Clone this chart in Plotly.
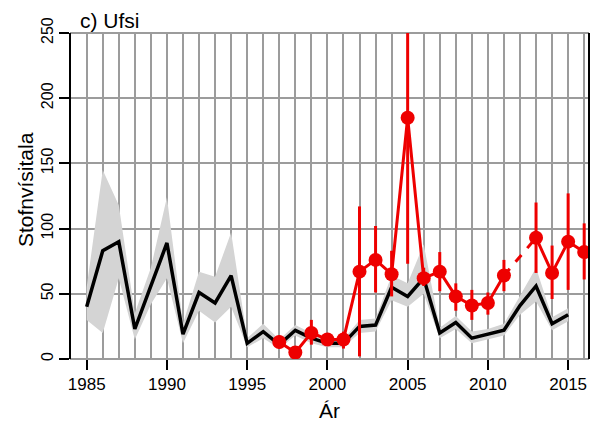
import plotly.graph_objects as go

# ---- data ----
years_black = list(range(1985, 2016))
black_index = [40, 83, 90, 23, 56, 89, 19, 51, 43, 64, 12, 21, 11, 22, 16, 12, 12, 25, 26, 55,
               48, 62, 20, 28, 16, 19, 22, 41, 56, 27, 34]
black_upper = [55, 145, 118, 35, 70, 124, 27, 67, 63, 97, 16, 27, 15, 26, 20, 15, 15, 30, 31, 64,
               58, 88, 24, 33, 21, 23, 27, 49, 70, 32, 39]
black_lower = [30, 20, 62, 15, 42, 62, 12, 37, 28, 40, 9, 16, 8, 18, 12, 9, 9, 20, 21, 45,
               40, 50, 16, 23, 12, 15, 18, 34, 44, 22, 29]

years_red = list(range(1997, 2017))
red_index = [13, 5, 20, 15, 15, 67, 76, 65, 185, 62, 67, 48, 41, 43, 64, None, 93, 66, 90, 82]
red_upper = [18, 9, 30, 20, 21, 117, 102, 83, 290, 70, 82, 58, 53, 51, 76, None, 120, 87, 127, 104]
red_lower = [8, 1, 11, 10, 8, 2, 51, 48, 73, 56, 52, 37, 30, 34, 52, None, 66, 46, 53, 61]

x_ticks = [1985, 1990, 1995, 2000, 2005, 2010, 2015]
y_ticks = [0, 50, 100, 150, 200, 250]

title_text = "c) Ufsi"
x_title = "Ár"
y_title = "Stofnvísitala"

FONT = "Liberation Sans, Arial, Helvetica, sans-serif"
RED = "#ee0000"
GRID = "#9c9c9c"

fig = go.Figure()

# grey confidence band
fig.add_trace(go.Scatter(
    x=years_black + years_black[::-1],
    y=black_upper + black_lower[::-1],
    fill="toself", fillcolor="#d4d4d4", line=dict(width=0),
    mode="lines", hoverinfo="skip", showlegend=False))

# black index line
fig.add_trace(go.Scatter(
    x=years_black, y=black_index, mode="lines",
    line=dict(color="black", width=3.5), showlegend=False))

# red index with error bars
err_plus = [None if v is None else u - v for v, u in zip(red_index, red_upper)]
err_minus = [None if v is None else v - l for v, l in zip(red_index, red_lower)]
fig.add_trace(go.Scatter(
    x=years_red, y=red_index, mode="lines+markers",
    line=dict(color=RED, width=3), marker=dict(color=RED, size=14),
    error_y=dict(type="data", array=err_plus, arrayminus=err_minus,
                 color=RED, thickness=3, width=0, symmetric=False),
    connectgaps=False, showlegend=False))

# dashed connection across the missing year
i0 = years_red.index(2011)
i1 = years_red.index(2013)
fig.add_trace(go.Scatter(
    x=[years_red[i0], years_red[i1]], y=[red_index[i0], red_index[i1]],
    mode="lines", line=dict(color=RED, width=3, dash="dash"), showlegend=False))

# frame lines
for xs in [0, 1]:
    fig.add_shape(type="line", xref="paper", yref="paper", x0=xs, x1=xs, y0=0, y1=1,
                  line=dict(color="black", width=2))
for ys in [0, 1]:
    fig.add_shape(type="line", xref="paper", yref="paper", x0=0, x1=1, y0=ys, y1=ys,
                  line=dict(color=GRID, width=2), layer="below")

PW, PH = 519.0, 326.0  # plot area in px

fig.add_annotation(text=title_text, xref="paper", yref="paper", x=0.018, y=1.0,
                   xanchor="left", yanchor="bottom", showarrow=False,
                   font=dict(family=FONT, size=21, color="black"), borderpad=0)
fig.add_annotation(text=x_title, xref="paper", yref="paper", x=0.5, y=-(410 - 359) / PH,
                   xanchor="center", yanchor="middle", showarrow=False,
                   font=dict(family=FONT, size=21, color="black"))
fig.add_annotation(text=y_title, xref="paper", yref="paper", x=(25 - 70) / PW, y=(359 - 190) / PH,
                   xanchor="center", yanchor="middle", showarrow=False, textangle=-90,
                   font=dict(family=FONT, size=21, color="black"))

fig.update_layout(
    width=591, height=423,
    margin=dict(l=70, r=2, t=33, b=64, autoexpand=False),
    paper_bgcolor="white", plot_bgcolor="white",
    font=dict(family=FONT, color="black"),
    xaxis=dict(range=[1983.96, 2016.3], tickmode="array", tickvals=x_ticks,
               ticks="outside", ticklen=10, tickwidth=1.5, tickcolor="black",
               tickfont=dict(size=17), showgrid=True, gridcolor=GRID, gridwidth=2,
               minor=dict(dtick=1, tick0=1985, showgrid=True, gridcolor=GRID, gridwidth=2, ticks=""),
               zeroline=False, showline=False, automargin=False),
    yaxis=dict(range=[0, 250], tickmode="array", tickvals=y_ticks,
               ticks="outside", ticklen=10, tickwidth=1.5, tickcolor="black",
               tickfont=dict(size=16), tickangle=-90, showgrid=True, gridcolor=GRID, gridwidth=2,
               zeroline=False, showline=False, automargin=False),
)

fig.write_html("out.html", config={"displayModeBar": False},
               post_script="document.body.style.margin='0px';document.body.style.overflow='hidden';")
